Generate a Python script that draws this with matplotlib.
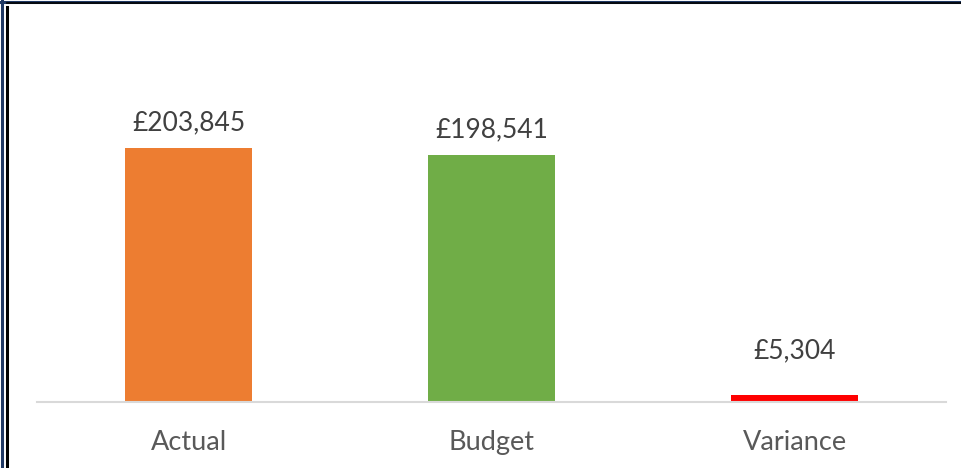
import matplotlib
matplotlib.use('Agg')
import matplotlib.pyplot as plt
from matplotlib.lines import Line2D

###############################
# data
###############################
categories = ['Actual', 'Budget', 'Variance']
values = [203845, 198541, 5304]
value_labels = ['£203,845', '£198,541', '£5,304']
bar_colors = ['#ED7D31', '#70AD47', '#FF0000']

plt.rcParams['font.family'] = ['Lato', 'DejaVu Sans']

###############################
# plot
###############################
fig = plt.figure(figsize=(9.62, 4.68), dpi=100)
ax = fig.add_axes([0.0385, 0.141, 0.945, 0.6656])

x = range(len(categories))
bars = ax.bar(x, values, width=0.42, color=bar_colors)
ax.set_xlim(-0.5, 2.5)
ax.set_ylim(0, 250000)

# label offsets (points) - variance label sits higher above its thin bar
label_pad = [9, 9, 23]
for xi, v, lab, pad in zip(x, values, value_labels, label_pad):
    ax.annotate(lab, (xi, v), xytext=(0, pad), textcoords='offset points',
                ha='center', va='bottom', fontsize=19, color='#404040')

ax.set_xticks(list(x))
ax.set_xticklabels(categories, fontsize=19.5, color='#595959')
ax.tick_params(axis='x', length=0, pad=20)
ax.set_yticks([])
for s in ['top', 'right', 'left']:
    ax.spines[s].set_visible(False)
ax.spines['bottom'].set_color('#D9D9D9')
ax.spines['bottom'].set_linewidth(1.5)

# frame lines round the picture
W, H = 962, 468
fig.add_artist(Line2D([2 / W, 2 / W], [0, 1], color='#1F3864', lw=2.2))
fig.add_artist(Line2D([7 / W, 7 / W], [0, 1 - 7 / H], color='black', lw=2.2))
fig.add_artist(Line2D([0, 1], [1 - 1.5 / H, 1 - 1.5 / H], color='#1F3864', lw=2.2))
fig.add_artist(Line2D([7 / W, 1], [1 - 3 / H, 1 - 3 / H], color='black', lw=1.2))

fig.savefig('out.png', dpi=100)
